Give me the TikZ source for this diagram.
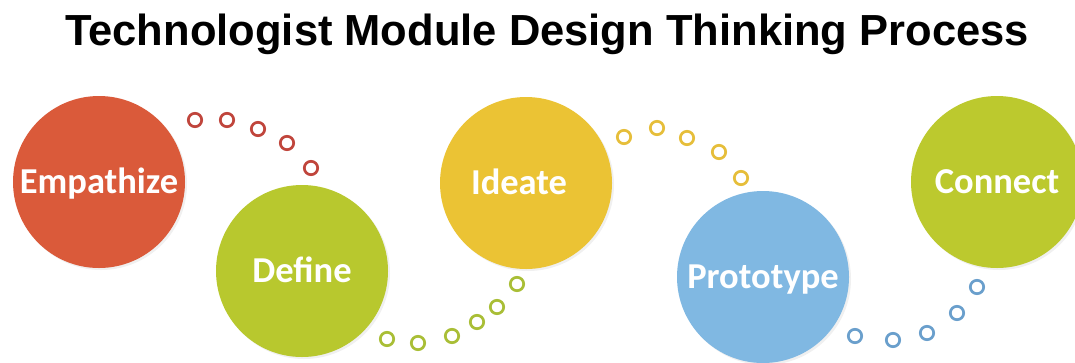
\documentclass[tikz,border=0pt]{standalone}
\usepackage{fontspec}
\setmainfont{Liberation Sans}
\newfontfamily\bubblefont{Carlito}
\usetikzlibrary{shadows}

\definecolor{empred}{HTML}{DA5A3A}
\definecolor{defgreen}{HTML}{B8C82E}
\definecolor{ideayellow}{HTML}{EBC334}
\definecolor{protoblue}{HTML}{80B8E2}
\definecolor{congreen}{HTML}{BCC92E}
\definecolor{ringred}{HTML}{C0453C}
\definecolor{ringgreen}{HTML}{A9BE36}
\definecolor{ringyellow}{HTML}{E6BE3A}
\definecolor{ringblue}{HTML}{6A9FCC}

\begin{document}
\begin{tikzpicture}[x=1pt, y=-1pt,
    bubble/.style={circle, minimum size=172pt, inner sep=0pt, text=white,
        text height=23.5pt, text depth=0pt,
        drop shadow={opacity=0.12, shadow xshift=2pt, shadow yshift=-2pt},
        font=\bubblefont\bfseries\fontsize{36.5}{36.5}\selectfont},
    ring/.style={circle, draw=#1, line width=2.7pt, minimum size=13.4pt, inner sep=0pt}]
    \useasboundingbox (0,0) rectangle (1075,362);
    \node[anchor=base, font=\bfseries\fontsize{43.5}{43.5}\selectfont] (title) at (547,45)
        {Technologist Module Design Thinking Process};
    % the five steps
    \node[bubble, fill=empred] (emp) at (99,182) {Empathize};
    \node[bubble, fill=defgreen] (def) at (302,271) {Define};
    \node[bubble, fill=ideayellow] (idea) at (526,183) {Ideate\kern14pt};
    \node[bubble, fill=protoblue] (proto) at (763,277) {Prototype};
    \node[bubble, fill=congreen] (con) at (997,182) {Connect};
    % rings between the steps
    \foreach \x/\y [count=\i] in {195/120, 227/120, 258/129, 287/143, 311/168}
        \node[ring=ringred] (emp-def-\i) at (\x,\y) {};
    \foreach \x/\y [count=\i] in {387/339, 418/343, 452/336, 477/322, 497/307, 517/284}
        \node[ring=ringgreen] (def-idea-\i) at (\x,\y) {};
    \foreach \x/\y [count=\i] in {624/137, 657/128, 687/138, 719/152, 741/178}
        \node[ring=ringyellow] (idea-proto-\i) at (\x,\y) {};
    \foreach \x/\y [count=\i] in {855/336, 893/340, 927/333, 957/313, 977/287}
        \node[ring=ringblue] (proto-con-\i) at (\x,\y) {};
\end{tikzpicture}
\end{document}
